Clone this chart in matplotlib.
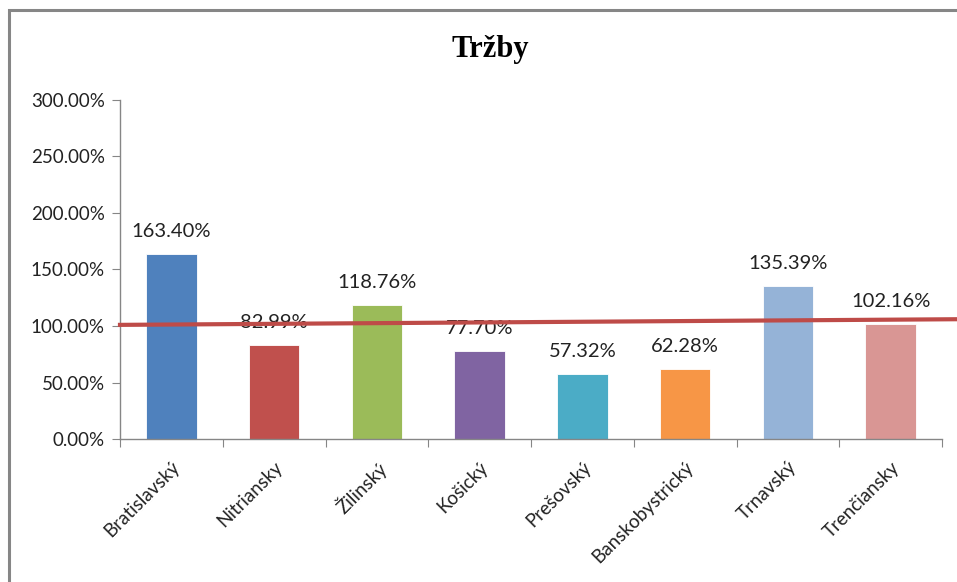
import numpy as np
import matplotlib.pyplot as plt
from matplotlib.patches import Rectangle

# Data
regions = ["Bratislavský", "Nitriansky", "Žilinský", "Košický", "Prešovský",
           "Banskobystrický", "Trnavský", "Trenčiansky"]
values = [163.40, 82.99, 118.76, 77.70, 57.32, 62.28, 135.39, 102.16]
colors = ["#4F81BD", "#C0504D", "#9BBB59", "#8064A2", "#4BACC6",
          "#F79646", "#95B3D7", "#D99694"]
line_x = [-0.5, 7.65]
line_y = [101.0, 106.0]
yticks = [0, 50, 100, 150, 200, 250, 300]

W, H = 957, 582
fig = plt.figure(figsize=(W / 100, H / 100), dpi=100)
plt.rcParams['font.family'] = ['Lato', 'DejaVu Sans']

# outer chart frame
fig.patches.append(Rectangle((9 / W, -0.1), 1.2, (H - 10) / H + 0.1, transform=fig.transFigure,
                             fill=False, edgecolor="#868686", linewidth=2.2))

ax = fig.add_axes([120 / W, (H - 439) / H, (942 - 120) / W, (439 - 100) / H])
x = np.arange(len(regions))
ax.bar(x, values, width=0.49, color=colors, edgecolor="white", linewidth=0.6, zorder=2)

for xi, v in zip(x, values):
    ax.annotate(f"{v:.2f}%", (xi, v), xytext=(0, 10), textcoords="offset points",
                ha="center", va="bottom", fontsize=14.5, color="#222222", zorder=1)

ax.plot(line_x, line_y, color="#BE4B48", linewidth=3, clip_on=False, zorder=3)

ax.set_xlim(-0.5, len(regions) - 0.5)
ax.set_ylim(0, 300)
ax.set_yticks(yticks)
ax.set_yticklabels([f"{t:.2f}%" for t in yticks], fontsize=13.5, color="#222222")
ax.set_xticks(np.arange(len(regions) + 1) - 0.5)
ax.set_xticklabels([])
ax.set_xticks(x, minor=True)
ax.set_xticklabels(regions, minor=True, rotation=45, ha="right", va="top",
                   rotation_mode="anchor", fontsize=13.5, color="#222222")
ax.tick_params(axis="x", which="minor", length=0, pad=14)
ax.tick_params(axis="x", which="major", length=6, color="#868686")
ax.tick_params(axis="y", length=6, color="#868686", pad=5)

for s in ["top", "right"]:
    ax.spines[s].set_visible(False)
for s in ["left", "bottom"]:
    ax.spines[s].set_color("#868686")
    ax.spines[s].set_linewidth(1)

fig.text(490 / W, 1 - 50 / H, "Tržby", ha="center", va="center",
         family="Liberation Serif", fontweight="bold", fontsize=22)

fig.savefig("out.png", dpi=100)
